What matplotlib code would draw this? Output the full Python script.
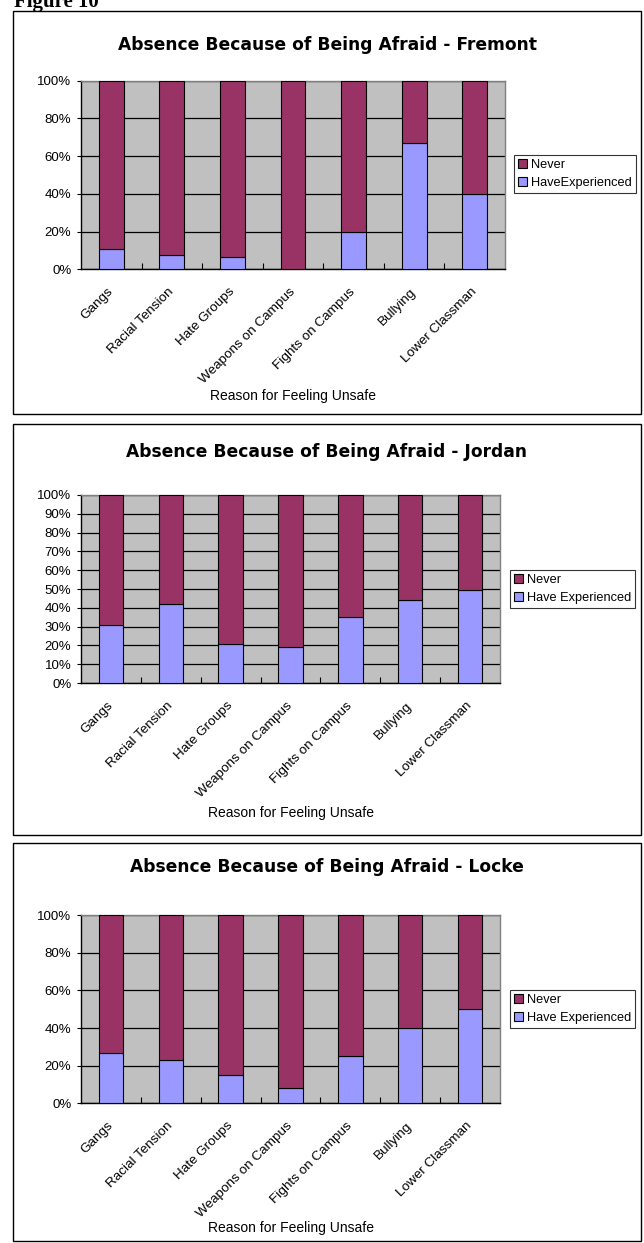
import matplotlib
matplotlib.use("Agg")
import matplotlib.pyplot as plt
from matplotlib.patches import Rectangle, Patch
import numpy as np

# ---------------- data ----------------
categories = ["Gangs", "Racial Tension", "Hate Groups", "Weapons on Campus",
              "Fights on Campus", "Bullying", "Lower Classman"]
schools = ["Fremont", "Jordan", "Locke"]
fremont_experienced = [11, 7.5, 6.5, 0, 20, 67, 40]
jordan_experienced = [31, 42, 20.5, 19, 35, 44, 49.5]
locke_experienced = [27, 23, 15, 8, 25, 40, 50]
fremont_never = [100 - v for v in fremont_experienced]
jordan_never = [100 - v for v in jordan_experienced]
locke_never = [100 - v for v in locke_experienced]
legend_labels = [["Never", "HaveExperienced"],
                 ["Never", "Have Experienced"],
                 ["Never", "Have Experienced"]]
y_tick_steps = [20, 10, 20]
x_axis_title = "Reason for Feeling Unsafe"
title_prefix = "Absence Because of Being Afraid - "

experienced_sets = [fremont_experienced, jordan_experienced, locke_experienced]
never_sets = [fremont_never, jordan_never, locke_never]

# ---------------- layout (pixels) ----------------
W, H = 644, 1243
NEVER_C = "#993366"
EXP_C = "#9999FF"
GRAY = "#C0C0C0"
SANS = ["Liberation Sans", "DejaVu Sans"]

fig = plt.figure(figsize=(W / 100, H / 100), dpi=100)
fig.patch.set_facecolor("white")


def fx(px):
    return px / W


def fy(py):
    return 1 - py / H


def rect(l, t, r, b):
    return [l / W, 1 - b / H, (r - l) / W, (b - t) / H]


panel_boxes = [(13, 11, 641, 414), (13, 424, 641, 835), (13, 843, 641, 1241)]
axes_boxes = [(81, 80.7, 505, 269.3), (81, 495, 500, 683), (81, 915.3, 500, 1103.3)]
title_y = [45, 452, 867]
xlabel_y = [396, 813, 1228]
legend_tl = [(514, 155), (510, 570), (510, 990)]

fig.text(fx(14), fy(7), "Figure 10", family=["Liberation Serif", "DejaVu Serif"],
         fontsize=15, fontweight="bold", ha="left", va="baseline")

for i in range(3):
    l, t, r, b = panel_boxes[i]
    fig.patches.append(Rectangle((fx(l), fy(b)), (r - l) / W, (b - t) / H,
                                 transform=fig.transFigure, fill=False,
                                 edgecolor="black", linewidth=1.0, zorder=0))

    ax = fig.add_axes(rect(*axes_boxes[i]))
    ax.set_facecolor(GRAY)
    x = np.arange(len(categories))
    exp_vals = experienced_sets[i]
    nev_vals = never_sets[i]
    ax.bar(x, exp_vals, width=0.41, color=EXP_C, edgecolor="black",
           linewidth=0.8, zorder=3)
    ax.bar(x, nev_vals, bottom=exp_vals, width=0.41, color=NEVER_C,
           edgecolor="black", linewidth=0.8, zorder=3)
    ax.set_xlim(-0.5, len(categories) - 0.5)
    ax.set_ylim(0, 100)
    step = y_tick_steps[i]
    yt = np.arange(0, 101, step)
    ax.set_yticks(yt)
    ax.set_yticklabels([f"{v}%" for v in yt], family=SANS, fontsize=9.5)
    ax.yaxis.grid(True, color="black", linewidth=0.9, zorder=1)
    ax.set_axisbelow(True)
    ax.tick_params(axis="y", direction="out", length=3, width=0.8, pad=4,
                   colors="black")
    ax.set_xticks(x)
    ax.set_xticklabels(categories, rotation=45, ha="right", va="center",
                       rotation_mode="anchor", family=SANS, fontsize=9.7)
    ax.tick_params(axis="x", which="major", length=0, pad=15)
    ax.set_xticks(np.arange(0.5, len(categories) - 0.5, 1), minor=True)
    ax.tick_params(axis="x", which="minor", direction="in", length=4,
                   width=0.8, colors="black")
    for s in ["left", "bottom"]:
        ax.spines[s].set_color("black")
        ax.spines[s].set_linewidth(1.0)
    for s in ["top", "right"]:
        ax.spines[s].set_color("#808080")
        ax.spines[s].set_linewidth(1.0)

    pl, pt, pr, pb = panel_boxes[i]
    fig.text(fx((pl + pr) / 2), fy(title_y[i]), title_prefix + schools[i],
             family=["DejaVu Sans"], fontweight="bold", fontsize=12.3,
             ha="center", va="center")
    fig.text(fx((axes_boxes[i][0] + axes_boxes[i][2]) / 2), fy(xlabel_y[i]),
             x_axis_title, family=SANS, fontsize=10, ha="center", va="center")

    lx, ly = legend_tl[i]
    handles = [Patch(facecolor=NEVER_C, edgecolor="black", linewidth=0.8),
               Patch(facecolor=EXP_C, edgecolor="black", linewidth=0.8)]
    leg = fig.legend(handles, legend_labels[i], loc="upper left",
                     bbox_to_anchor=(fx(lx), fy(ly)), frameon=True,
                     fancybox=False, shadow=False, borderpad=0.3,
                     handlelength=0.7, handleheight=0.7, handletextpad=0.35,
                     labelspacing=0.5, borderaxespad=0.0,
                     prop={"family": SANS, "size": 9.2})
    leg.get_frame().set_edgecolor("black")
    leg.get_frame().set_linewidth(0.8)

fig.savefig("out.png", dpi=100)
